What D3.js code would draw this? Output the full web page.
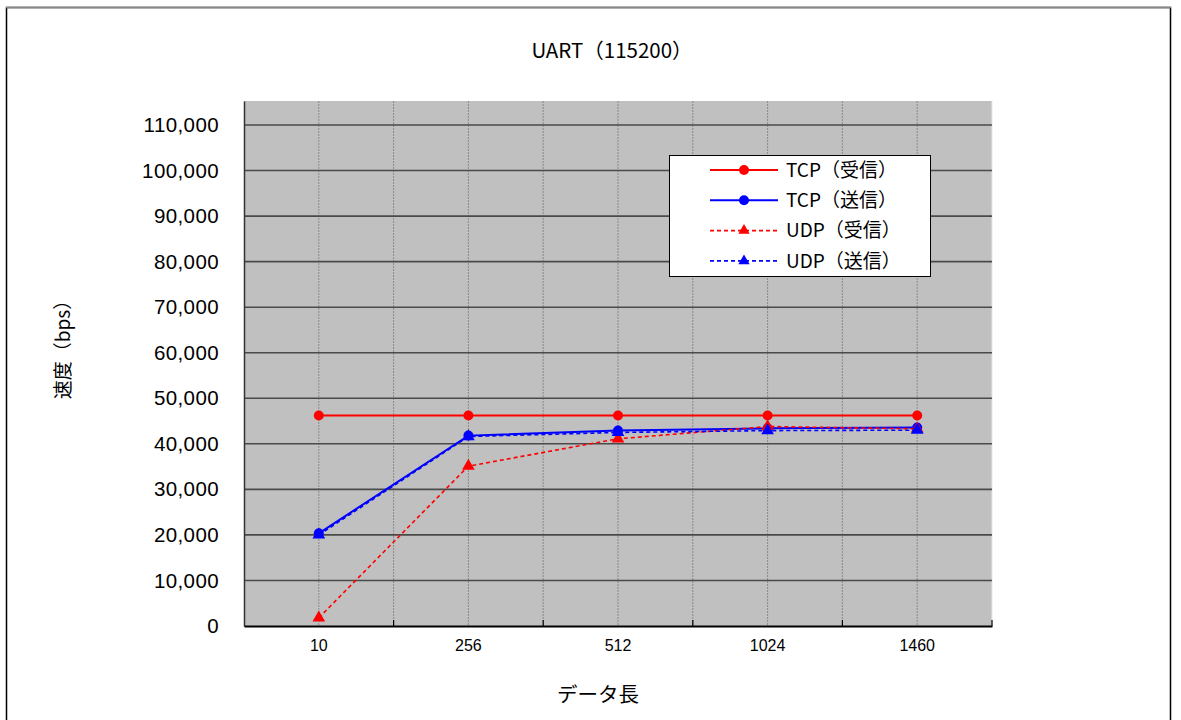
<!DOCTYPE html>
<html>
<head>
<meta charset="utf-8">
<script src="https://cdn.jsdelivr.net/npm/d3@7"></script>
<style>
  html, body { margin: 0; padding: 0; background: #fff; }
  svg { display: block; }
</style>
</head>
<body>
<svg id="chart" width="1181" height="720"></svg>
<script>
// Data length categories (bytes)
const categories = ["10", "256", "512", "1024", "1460"];

// Throughput (bps) per series
const tcpRecv = [46200, 46200, 46200, 46200, 46200];
const tcpSend = [20350, 41800, 42900, 43400, 43600];
const udpRecv = [1800, 35100, 41100, 43800, 43300];
const udpSend = [20000, 41600, 42500, 42900, 43000];

const yTicks = [0, 10000, 20000, 30000, 40000, 50000, 60000, 70000, 80000, 90000, 100000, 110000];

const seriesNames = ["TCP（受信）", "TCP（送信）", "UDP（受信）", "UDP（送信）"];
const seriesValues = [tcpRecv, tcpSend, udpRecv, udpSend];
const seriesColors = ["#ff0000", "#0000ff", "#ff0000", "#0000ff"];
const seriesDashed = [false, false, true, true];
const seriesMarker = ["circle", "circle", "triangle", "triangle"];

const svg = d3.select("#chart");
const jp = "'Noto Sans CJK JP', 'Liberation Sans', sans-serif";
const num = "'Liberation Sans', Arial, sans-serif";

// Chart frame
svg.append("path")
  .attr("d", "M6.5,720 V7.5 H1170.5 V720")
  .attr("fill", "none").attr("stroke", "#000").attr("stroke-width", 1.5);
svg.append("line").attr("x1", 6).attr("x2", 1171).attr("y1", 7.5).attr("y2", 7.5)
  .attr("stroke", "#888").attr("stroke-width", 1.5);

const plot = { left: 244, right: 992, top: 101, bottom: 626 };

const x = d3.scaleBand().domain(categories).range([plot.left, plot.right]).paddingInner(0).paddingOuter(0);
const y = d3.scaleLinear().domain([0, 115270]).range([plot.bottom, plot.top]);

// Plot background
svg.append("rect")
  .attr("x", plot.left).attr("y", plot.top)
  .attr("width", plot.right - plot.left).attr("height", plot.bottom - plot.top)
  .attr("fill", "#c0c0c0");

// Vertical dotted gridlines at category centres and boundaries
const vLines = [];
categories.forEach((c, i) => {
  if (i > 0) vLines.push(x(c));
  vLines.push(x(c) + x.bandwidth() / 2);
});
vLines.push(plot.right);
svg.append("g").selectAll("line").data(vLines).join("line")
  .attr("x1", d => d).attr("x2", d => d)
  .attr("y1", plot.top).attr("y2", plot.bottom)
  .attr("stroke", d => d === plot.right ? "#e8e8e8" : "#8a8a8a")
  .attr("stroke-width", 1)
  .attr("stroke-dasharray", d => d === plot.right ? null : "2,1");

// Horizontal gridlines
svg.append("g").selectAll("line").data(yTicks.filter(t => t > 0)).join("line")
  .attr("x1", plot.left).attr("x2", plot.right)
  .attr("y1", d => y(d)).attr("y2", d => y(d))
  .attr("stroke", "#4a4a4a").attr("stroke-width", 1.6);

// Y axis
const yAxis = d3.axisLeft(y).tickValues(yTicks).tickSize(0).tickPadding(25)
  .tickFormat(d3.format(","));
const gy = svg.append("g").attr("transform", `translate(${plot.left},0)`).call(yAxis);
gy.select(".domain").attr("stroke", "#333").attr("stroke-width", 1.5);
gy.selectAll("text").attr("font-family", num).attr("font-size", 20.5)
  .attr("letter-spacing", "0.4px").attr("fill", "#000");

// X axis
const xAxis = d3.axisBottom(x).tickSize(0).tickPadding(14);
const gx = svg.append("g").attr("transform", `translate(0,${plot.bottom})`).call(xAxis);
gx.select(".domain").attr("stroke", "#000").attr("stroke-width", 2);
gx.selectAll("text").attr("font-family", "'Liberation Sans Narrow', " + num)
  .attr("font-size", 16).attr("fill", "#000");
// Boundary tick marks
svg.append("g").selectAll("line").data(categories.slice(1).concat(["end"])).join("line")
  .attr("x1", d => d === "end" ? plot.right : x(d))
  .attr("x2", d => d === "end" ? plot.right : x(d))
  .attr("y1", plot.bottom - 6).attr("y2", plot.bottom)
  .attr("stroke", "#000").attr("stroke-width", 1.2);

// Series lines and markers
const line = d3.line().x((d, i) => x(categories[i]) + x.bandwidth() / 2).y(d => y(d));
const tri = d3.symbol().type(d3.symbolTriangle).size(70);

seriesValues.forEach((vals, s) => {
  svg.append("path").datum(vals)
    .attr("d", line)
    .attr("fill", "none")
    .attr("stroke", seriesColors[s])
    .attr("stroke-width", seriesDashed[s] ? 1.6 : 2)
    .attr("stroke-dasharray", seriesDashed[s] ? "4,3" : null);
  const g = svg.append("g");
  vals.forEach((v, i) => {
    const cx = x(categories[i]) + x.bandwidth() / 2, cy = y(v);
    if (seriesMarker[s] === "circle") {
      g.append("circle").attr("cx", cx).attr("cy", cy).attr("r", 5).attr("fill", seriesColors[s]);
    } else {
      g.append("path").attr("d", tri).attr("transform", `translate(${cx},${cy})`).attr("fill", seriesColors[s]);
    }
  });
});

// Legend
const lg = svg.append("g");
lg.append("rect").attr("x", 669.5).attr("y", 155.5).attr("width", 261).attr("height", 121)
  .attr("fill", "#fff").attr("stroke", "#000").attr("stroke-width", 1);
seriesNames.forEach((name, s) => {
  const ly = 170 + s * 30.3;
  lg.append("line").attr("x1", 710).attr("x2", 778).attr("y1", ly).attr("y2", ly)
    .attr("stroke", seriesColors[s]).attr("stroke-width", seriesDashed[s] ? 1.6 : 2)
    .attr("stroke-dasharray", seriesDashed[s] ? "4,3" : null);
  if (seriesMarker[s] === "circle") {
    lg.append("circle").attr("cx", 744).attr("cy", ly).attr("r", 5).attr("fill", seriesColors[s]);
  } else {
    lg.append("path").attr("d", d3.symbol().type(d3.symbolTriangle).size(55))
      .attr("transform", `translate(744,${ly})`).attr("fill", seriesColors[s]);
  }
  lg.append("text").attr("x", 786).attr("y", ly).attr("dy", "0.36em")
    .attr("font-family", jp).attr("font-size", 19).attr("fill", "#000")
    .text(name);
});

// Title
svg.append("text").attr("x", 612).attr("y", 58).attr("text-anchor", "middle")
  .attr("font-family", "'Liberation Sans Narrow', " + jp).attr("font-size", 20.5).attr("fill", "#000")
  .text("UART（115200）");

// Axis titles
svg.append("text").attr("x", 598).attr("y", 702).attr("text-anchor", "middle")
  .attr("font-family", jp).attr("font-size", 20.5).attr("fill", "#000")
  .text("データ長");
svg.append("text").attr("transform", "translate(70,345) rotate(-90)").attr("text-anchor", "middle")
  .attr("font-family", jp).attr("font-size", 19).attr("fill", "#000")
  .text("速度（bps）");
</script>
</body>
</html>
